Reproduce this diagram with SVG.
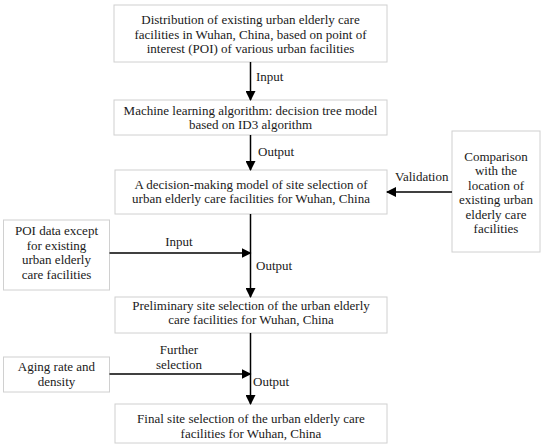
<svg xmlns="http://www.w3.org/2000/svg" width="550" height="444" viewBox="0 0 550 444">
<style>
.box{fill:#fff;stroke:#d0d0d0;stroke-width:1}
text{font-family:'Liberation Serif','Times New Roman',serif;font-size:13px;fill:#1a1a1a;text-anchor:middle}
.lbl{text-anchor:start}
.ln{stroke:#000;stroke-width:1.5;fill:none}
</style>
<defs>
<marker id="ah" markerWidth="10" markerHeight="10" refX="9" refY="5" orient="auto" markerUnits="userSpaceOnUse">
<path d="M0,0 L10,5 L0,10 Z" fill="#000"/>
</marker>
</defs>
<rect width="550" height="444" fill="#fff"/>
<g font-family="Liberation Serif, serif">
<g id="n1"><rect class="box" x="114" y="5" width="273" height="57"/>
<text x="250.5" y="24">Distribution of existing urban elderly care</text>
<text x="250.5" y="38.5">facilities in Wuhan, China, based on point of</text>
<text x="250.5" y="53">interest (POI) of various urban facilities</text></g>
<g id="n2"><rect class="box" x="114" y="100" width="273" height="35"/>
<text x="250.5" y="114.5">Machine learning algorithm: decision tree model</text>
<text x="250.5" y="129">based on ID3 algorithm</text></g>
<g id="n3"><rect class="box" x="115" y="170" width="272" height="44"/>
<text x="251" y="188.5">A decision-making model of site selection of</text>
<text x="251" y="203">urban elderly care facilities for Wuhan, China</text></g>
<g id="n4"><rect class="box" x="452" y="131" width="88" height="121"/>
<text x="496" y="160.5">Comparison</text>
<text x="496" y="175">with the</text>
<text x="496" y="189.5">location of</text>
<text x="496" y="204">existing urban</text>
<text x="496" y="218.5">elderly care</text>
<text x="496" y="233">facilities</text></g>
<g id="n5"><rect class="box" x="3.5" y="220" width="106" height="70"/>
<text x="56.5" y="235">POI data except</text>
<text x="56.5" y="249.5">for existing</text>
<text x="56.5" y="264">urban elderly</text>
<text x="56.5" y="278.5">care facilities</text></g>
<g id="n6"><rect class="box" x="115" y="297" width="272" height="36"/>
<text x="251" y="310">Preliminary site selection of the urban elderly</text>
<text x="251" y="324">care facilities for Wuhan, China</text></g>
<g id="n7"><rect class="box" x="3.5" y="357" width="106" height="35"/>
<text x="56.5" y="371">Aging rate and</text>
<text x="56.5" y="386">density</text></g>
<g id="n8"><rect class="box" x="115" y="404" width="272" height="39"/>
<text x="251" y="422.5">Final site selection of the urban elderly care</text>
<text x="251" y="438">facilities for Wuhan, China</text></g>
<g id="connectors">
<line class="ln" x1="250.5" y1="62" x2="250.5" y2="100" marker-end="url(#ah)"/>
<text class="lbl" x="256" y="81">Input</text>
<line class="ln" x1="250.5" y1="135" x2="250.5" y2="170" marker-end="url(#ah)"/>
<text class="lbl" x="258" y="156">Output</text>
<line class="ln" x1="452" y1="192" x2="387" y2="192" marker-end="url(#ah)"/>
<text class="lbl" x="395" y="181">Validation</text>
<line class="ln" x1="250.5" y1="214" x2="250.5" y2="297" marker-end="url(#ah)"/>
<line class="ln" x1="109.5" y1="253" x2="250.5" y2="253" marker-end="url(#ah)"/>
<text x="179" y="246">Input</text>
<text class="lbl" x="256" y="270">Output</text>
<line class="ln" x1="250.5" y1="333" x2="250.5" y2="404" marker-end="url(#ah)"/>
<line class="ln" x1="109.5" y1="374" x2="250.5" y2="374" marker-end="url(#ah)"/>
<text x="179" y="354">Further</text>
<text x="179" y="369">selection</text>
<text class="lbl" x="253" y="386">Output</text>
</g>
</g>
</svg>
